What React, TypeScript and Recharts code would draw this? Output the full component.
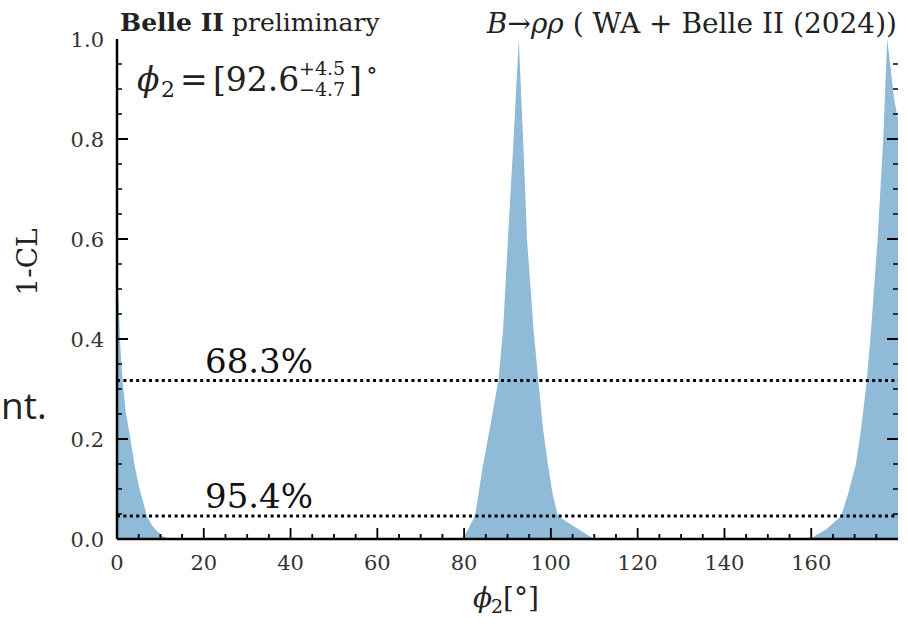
import React from 'react';
import { ComposedChart, Area, Line, XAxis, YAxis, ReferenceLine } from 'recharts';

// phi_2 scan (degrees) and the corresponding 1-CL values
const phiDeg = [
  0, 0.4, 0.8, 1.3, 2.0, 3.1, 4.1, 5.2, 6.9, 8.0, 9.2, 10.5, 12.0,
  79.5, 80.9, 82.5, 84.4, 85.9, 87.9, 89.0, 90.1, 91.4, 92.6, 93.6, 94.5, 96.0, 97.1, 98.2, 99.3, 100.4, 101.6, 105.5, 110.0,
  159.6, 163.4, 166.9, 168.5, 170.3, 171.5, 172.8, 173.8, 175.3, 176.6, 177.5, 178.2, 179.1, 180.0,
];
const oneMinusCL = [
  0.53, 0.47, 0.38, 0.317, 0.255, 0.2, 0.145, 0.1, 0.046, 0.028, 0.016, 0.006, 0,
  0, 0.019, 0.046, 0.15, 0.22, 0.317, 0.42, 0.6, 0.8, 1.0, 0.8, 0.6, 0.42, 0.317, 0.22, 0.15, 0.09, 0.046, 0.024, 0,
  0, 0.019, 0.046, 0.09, 0.15, 0.22, 0.317, 0.42, 0.6, 0.8, 1.0, 0.95, 0.88, 0.84,
];

const clLevels = [0.317, 0.046];
const clLabels = ['68.3%', '95.4%'];

const xMajorTicks = [0, 20, 40, 60, 80, 100, 120, 140, 160];
const xMinorStep = 5;
const xMax = 180;
const yMajorTicks = [0, 0.2, 0.4, 0.6, 0.8, 1.0];
const yMinorStep = 0.05;

const data = phiDeg.map((p, i) => ({ phi: p, cl: oneMinusCL[i] }));

// pixel -> axis unit conversions (plot is 781 px wide, 500 px tall)
const xPerPx = xMax / 781;
const yPerPx = 1 / 500;

// inward tick marks along the bottom axis, traced as one path that returns to the axis line
const xTickPath: { phi: number; cl: number }[] = [];
for (let i = 1; i * xMinorStep < xMax; i++) {
  const v = i * xMinorStep;
  const h = (xMajorTicks.includes(v) ? 11 : 5) * yPerPx;
  xTickPath.push({ phi: v, cl: 0 }, { phi: v, cl: h }, { phi: v, cl: 0 });
}
const yTicks: number[] = [];
for (let i = 1; i < Math.round(1 / yMinorStep); i++) yTicks.push(Math.round(i * yMinorStep * 100) / 100);

const SERIF = '"DejaVu Serif", serif';
const isMajorY = (v: number) => yMajorTicks.some((m) => Math.abs(m - v) < 1e-6);

const BottomTick = (props: any) => {
  const { x, y, payload } = props;
  return (
    <text x={x} y={y + 31} textAnchor="middle" fontFamily={SERIF} fontSize={21} fill="#333">
      {payload.value}
    </text>
  );
};

const LeftTick = (props: any) => {
  const { x, y, payload } = props;
  return (
    <text x={x - 13} y={y} dy="0.36em" textAnchor="end" fontFamily={SERIF} fontSize={21} fill="#333">
      {Number(payload.value).toFixed(1)}
    </text>
  );
};

const LevelLabel = (props: any) => {
  const { viewBox, text } = props;
  if (!viewBox) return null;
  return (
    <text x={viewBox.x + 88} y={viewBox.y - 8} fontFamily={SERIF} fontSize={34} fill="#111">
      {text}
    </text>
  );
};

export default function App() {
  const axisLine = { stroke: '#000', strokeWidth: 2.5 };
  return (
    <div style={{ position: 'absolute', left: 0, top: 0, width: 908, height: 624, background: '#fff', overflow: 'hidden' }}>
      <ComposedChart width={908} height={624} data={data} margin={{ top: 39, right: 10, bottom: 0, left: 0 }}>
        <XAxis
          xAxisId="b"
          dataKey="phi"
          type="number"
          domain={[0, xMax]}
          ticks={xMajorTicks}
          interval={0}
          allowDataOverflow
          height={85}
          tickSize={0}
          tickMargin={0}
          tickLine={false}
          axisLine={axisLine}
          tick={<BottomTick />}
        />
        <XAxis
          xAxisId="t"
          orientation="top"
          type="number"
          domain={[0, xMax]}
          height={0}
          tick={false}
          tickLine={false}
          axisLine={axisLine}
        />
        <YAxis
          yAxisId="l"
          type="number"
          domain={[0, 1]}
          ticks={yMajorTicks}
          interval={0}
          width={117}
          tickSize={0}
          tickMargin={0}
          tickLine={false}
          axisLine={axisLine}
          tick={<LeftTick />}
        />
        <YAxis
          yAxisId="r"
          orientation="right"
          type="number"
          domain={[0, 1]}
          width={0}
          tick={false}
          tickLine={false}
          axisLine={axisLine}
        />
        <Area
          xAxisId="b"
          yAxisId="l"
          type="linear"
          dataKey="cl"
          stroke="none"
          fill="#8fbbd9"
          fillOpacity={1}
          isAnimationActive={false}
        />
        <Line
          xAxisId="b"
          yAxisId="l"
          data={xTickPath}
          dataKey="cl"
          type="linear"
          stroke="#000"
          strokeWidth={1.8}
          dot={false}
          activeDot={false}
          legendType="none"
          isAnimationActive={false}
        />
        {clLevels.map((lv, i) => (
          <ReferenceLine
            key={'lv' + lv}
            xAxisId="b"
            yAxisId="l"
            y={lv}
            stroke="#000"
            strokeWidth={3}
            strokeDasharray="3 3.4"
            label={<LevelLabel text={clLabels[i]} />}
          />
        ))}
        {yTicks.map((v) => {
          const major = isMajorY(v);
          const len = (major ? 11 : 5) * xPerPx;
          return (
            <ReferenceLine
              key={'yl' + v}
              xAxisId="b"
              yAxisId="l"
              ifOverflow="visible"
              segment={[{ x: 0, y: v }, { x: len, y: v }]}
              stroke="#000"
              strokeWidth={major ? 2 : 1.5}
            />
          );
        })}
        {yTicks.map((v) => {
          const major = isMajorY(v);
          const len = (major ? 11 : 5) * xPerPx;
          return (
            <ReferenceLine
              key={'yr' + v}
              xAxisId="b"
              yAxisId="l"
              ifOverflow="visible"
              segment={[{ x: xMax - len, y: v }, { x: xMax, y: v }]}
              stroke="#000"
              strokeWidth={major ? 2 : 1.5}
            />
          );
        })}
      </ComposedChart>
      <svg width={908} height={624} style={{ position: 'absolute', left: 0, top: 0, pointerEvents: 'none' }}>
        <text x={1} y={419} fontFamily='"Open Sans", sans-serif' fontSize={37} fill="#222">nt.</text>
        <text x={120} y={31} fontFamily={SERIF} fontSize={25} fill="#222">
          <tspan fontWeight="bold">Belle II</tspan>
          <tspan> preliminary</tspan>
        </text>
        <text x={897} y={33} textAnchor="end" fontFamily={SERIF} fontSize={28} fill="#222">
          <tspan fontStyle="italic">B</tspan>
          <tspan>→</tspan>
          <tspan fontStyle="italic">ρρ</tspan>
          <tspan> ( WA + Belle II (2024))</tspan>
        </text>
        <text x={137} y={91} fontFamily={SERIF} fontSize={33} fontStyle="italic" fill="#222">ϕ</text>
        <text x={161} y={97} fontFamily={SERIF} fontSize={22} fill="#222">2</text>
        <text x={180} y={91} fontFamily={SERIF} fontSize={33} fill="#222">=</text>
        <text x={213} y={91} fontFamily={SERIF} fontSize={33} fill="#222">[92.6</text>
        <text x={299} y={75} fontFamily={SERIF} fontSize={19} fill="#222">+4.5</text>
        <text x={299} y={96} fontFamily={SERIF} fontSize={19} fill="#222">−4.7</text>
        <text x={349} y={91} fontFamily={SERIF} fontSize={33} fill="#222">]</text>
        <text x={366} y={78} fontFamily={SERIF} fontSize={24} fill="#222">∘</text>
        <text x={0} y={0} transform="translate(37,262) rotate(-90)" textAnchor="middle" fontFamily={SERIF} fontSize={28} fill="#222">1-CL</text>
        <text x={473} y={607} fontFamily={SERIF} fontSize={28} fontStyle="italic" fill="#222">ϕ</text>
        <text x={491} y={613} fontFamily={SERIF} fontSize={19} fill="#222">2</text>
        <text x={503} y={607} fontFamily={SERIF} fontSize={28} fill="#222">[°]</text>
      </svg>
    </div>
  );
}
